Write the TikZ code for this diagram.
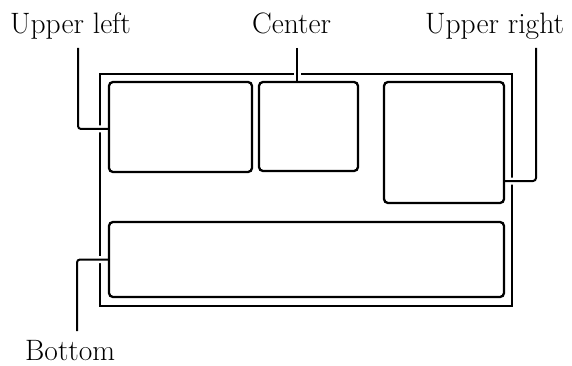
\documentclass[tikz,border=0pt]{standalone}
\usepackage{fontspec}
\begin{document}
\begin{tikzpicture}[x=1pt,y=-1pt,
  panel/.style={draw=black,line width=2.3pt,rounded corners=4pt,inner sep=0pt,outer sep=0pt},
  frame/.style={draw=black,line width=2pt,inner sep=0pt,outer sep=0pt},
  leader/.style={line width=2pt,rounded corners=3pt,preaction={draw=white,line width=7pt}},
  lab/.style={inner sep=0pt,anchor=base west,font=\fontsize{29.5}{32}\selectfont}]
\useasboundingbox (0,0) rectangle (572,366);
% frame
\node[frame,minimum width=412pt,minimum height=232pt] (outer) at (306,190) {};
% labels
\node[lab] (ullab) at (10,34) {Upper left};
\node[lab] (clab) at (252,34) {Center};
\node[lab] (urlab) at (425,34) {Upper right};
\node[lab] (blab) at (25,360) {Bottom};
% leader free ends
\coordinate (ulend) at (78,48);
\coordinate (cend) at (297,48);
\coordinate (urend) at (536,48);
\coordinate (bend) at (77,331);
% panels (positions only, drawn after leaders)
\path (180.5,127) node[panel,draw=none,minimum width=143pt,minimum height=90pt] (ulbox) {}
  (308.5,126.5) node[panel,draw=none,minimum width=99pt,minimum height=89pt] (cbox) {}
  (444,142.5) node[panel,draw=none,minimum width=120pt,minimum height=121pt] (urbox) {}
  (306.5,259.5) node[panel,draw=none,minimum width=395pt,minimum height=75pt] (bbox) {};
% leaders
\draw[leader] (ulend) |- (ulbox.west |- 0,129);
\draw[leader] (cend) -- (cend |- cbox.north);
\draw[leader] (urend) |- (urbox.east |- 0,181);
\draw[leader] (bend) |- (bbox.west);
% panels on top
\draw[line width=2.3pt,rounded corners=4pt] (ulbox.north west) rectangle (ulbox.south east);
\draw[line width=2.3pt,rounded corners=4pt] (cbox.north west) rectangle (cbox.south east);
\draw[line width=2.3pt,rounded corners=4pt] (urbox.north west) rectangle (urbox.south east);
\draw[line width=2.3pt,rounded corners=4pt] (bbox.north west) rectangle (bbox.south east);
\end{tikzpicture}
\end{document}
